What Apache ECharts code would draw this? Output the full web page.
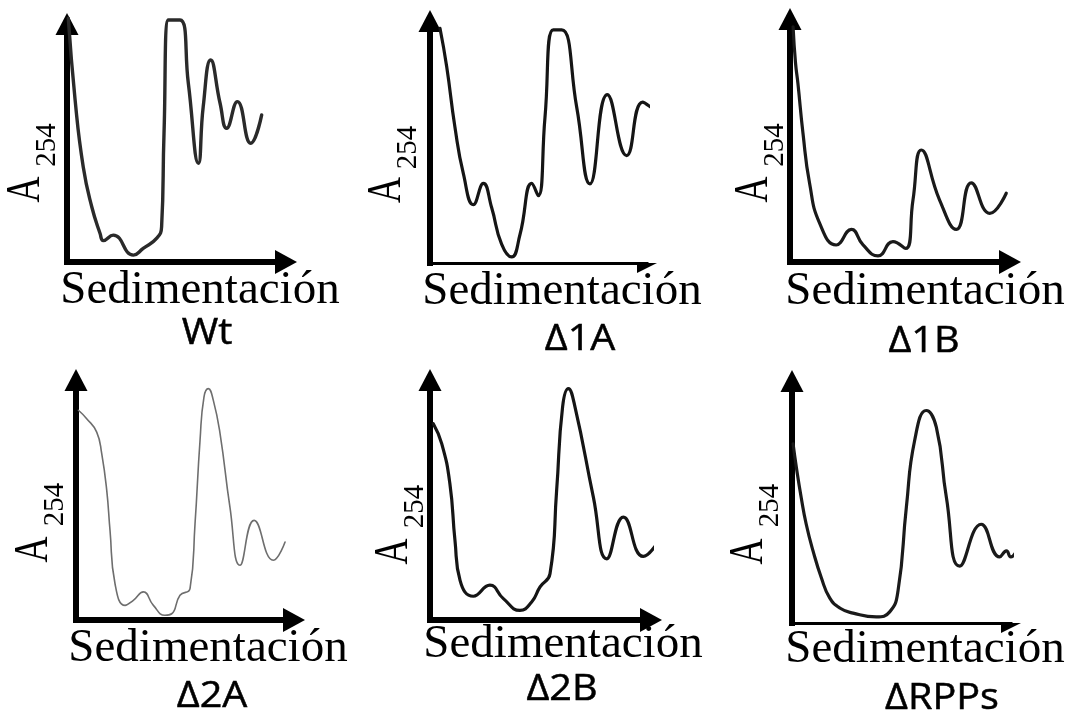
<!DOCTYPE html>
<html>
<head>
<meta charset="utf-8">
<title>Perfiles de sedimentación</title>
<script src="https://cdn.jsdelivr.net/npm/echarts@6/dist/echarts.min.js"></script>
<style>
  html, body { margin: 0; padding: 0; background: #fff; }
  #chart { width: 1073px; height: 717px; }
</style>
</head>
<body>
<div id="chart"></div>
<script>
// Strain names shown under each profile
const strainNames = ['Wt', 'Δ1A', 'Δ1B', 'Δ2A', 'Δ2B', 'ΔRPPs'];
const xAxisTitle = 'Sedimentación';
const yAxisTitle = 'A';
const yAxisSubscript = '254';

// A254 profiles: [sedimentation position (0-100), relative absorbance]
const profileWt = [
  [0.6, 102.4], [3.7, 68.1], [7.4, 40.0], [11.3, 23.2], [15.1, 12.0], [16.6, 9.0],
  [21.1, 11.3], [30.3, 2.9], [34.8, 5.7], [41.0, 10.0], [43.2, 14.8], [44.3, 54.1],
  [46.3, 101.7], [51.6, 101.7], [55.4, 75.1], [60.0, 41.5], [62.2, 65.3], [65.6, 84.9],
  [69.9, 66.7], [72.9, 56.2], [77.8, 67.4], [83.9, 49.9], [88.9, 61.8]
];
const profileD1A = [
  [4.6, 97.0], [7.7, 81.1], [11.5, 56.1], [15.4, 36.8], [20.0, 24.1], [24.6, 32.9],
  [28.4, 22.9], [33.0, 7.8], [37.6, 2.5], [41.5, 11.9], [46.9, 32.9], [49.9, 27.8],
  [53.0, 60.3], [56.8, 96.3], [60.7, 96.3], [67.6, 64.4], [73.7, 32.7], [81.7, 69.6],
  [90.6, 44.4], [98.0, 66.5], [102.9, 63.8], [104.5, 74.1]
];
const profileD1B = [
  [1.4, 96.8], [2.5, 82.0], [3.6, 73.5], [5.9, 53.0], [8.9, 32.4], [13.5, 15.9], [21.0, 7.0],
  [27.9, 13.4], [33.2, 7.0], [40.0, 2.5], [46.8, 8.4], [52.6, 5.6], [55.9, 25.5],
  [59.7, 46.1], [68.0, 25.5], [75.6, 13.4], [82.4, 32.6], [90.8, 20.0], [98.3, 28.3]
];
const profileD2A = [
  [1.1, 87.4], [4.9, 83.9], [9.5, 78.3], [11.8, 69.3], [14.1, 54.0], [15.6, 37.4],
  [17.9, 15.1], [22.5, 6.1], [26.3, 8.2], [30.9, 11.7], [35.5, 6.1], [40.8, 2.0],
  [43.9, 2.6], [47.7, 10.3], [52.3, 13.1], [54.6, 40.1], [56.9, 74.9], [58.7, 92.9],
  [60.7, 96.4], [63.0, 91.5], [66.1, 77.6], [70.6, 47.1], [75.2, 22.8], [81.7, 41.5],
  [90.5, 24.9], [95.9, 32.5]
];
const profileD2B = [
  [1.5, 81.8], [5.3, 73.5], [9.0, 56.8], [11.3, 33.2], [13.6, 16.5], [19.6, 9.9],
  [27.1, 14.5], [33.2, 8.9], [40.7, 4.0], [46.0, 7.5], [49.8, 13.8], [54.3, 19.3],
  [57.3, 54.0], [60.0, 88.8], [62.6, 96.4], [65.6, 88.8], [73.9, 51.3], [80.0, 25.5],
  [87.5, 42.9], [96.5, 26.5], [104.1, 33.9]
];
const profileDRPP = [
  [0.5, 74.0], [2.0, 64.3], [4.2, 51.9], [6.5, 40.8], [9.6, 29.8], [13.4, 18.7],
  [17.2, 10.4], [21.8, 6.2], [27.9, 4.1], [38.5, 2.5],
  [44.6, 4.6], [48.4, 13.2], [52.2, 47.7], [56.0, 75.4], [61.3, 87.8], [65.9, 80.9],
  [70.5, 51.9], [76.6, 23.5], [86.4, 40.8], [94.8, 27.3], [97.9, 29.8], [99.9, 27.3],
  [102.4, 29.5]
];
const profiles = [profileWt, profileD1A, profileD1B, profileD2A, profileD2B, profileDRPP];

// Right-hand edge of the gradient trace, where one is visible: [x, yFrom, yTo]
const traceEdges = [null, [104.5, 0, 97.1], null, null, [104.1, 3.3, 105.4], [102.3, 0.8, 101.7]];

// Panel geometry and styling (pixels)
const panels = [
  { grid: [67, 24, 219, 238],  axisW: [6, 6], halfArrow: false, line: ['#2a2a2a', 3.4],
    xTitle: [200, 291], name: [207, 334], a: [26, 189.5], sub: [47, 145], edge: null },
  { grid: [430, 21, 217, 242], axisW: [6, 3], halfArrow: true,  line: ['#151515', 3.2],
    xTitle: [562, 292], name: [580, 340], a: [387.5, 190], sub: [408.5, 147.5], edge: ['#222', 3] },
  { grid: [790, 19, 220, 243], axisW: [6, 6], halfArrow: false, line: ['#1a1a1a', 3.2],
    xTitle: [925, 292], name: [924, 342], a: [754, 189.5], sub: [775, 145], edge: null },
  { grid: [76, 380, 218, 240], axisW: [6, 6], halfArrow: false, line: ['#6e6e6e', 1.6],
    xTitle: [208, 649], name: [212, 697], a: [34, 549.5], sub: [55, 504.5], edge: null },
  { grid: [430, 380, 221, 240], axisW: [6, 6], halfArrow: false, line: ['#151515', 3.2],
    xTitle: [563, 645], name: [562, 690], a: [394, 551.5], sub: [415, 506.5], edge: ['#b0b0b0', 2] },
  { grid: [792, 381, 219, 242], axisW: [6, 3], halfArrow: true,  line: ['#1a1a1a', 3.2],
    xTitle: [925, 650], name: [942, 699], a: [749, 551.5], sub: [770, 505.5], edge: ['#a0a0a0', 2] }
];

// Lower half of an arrow head (the upper half sits behind the trace)
const halfArrowPath = 'path://M-10,20 M0,0 L10,20 L0,20 Z';

const grids = [], xAxes = [], yAxes = [], series = [], graphics = [];

panels.forEach(function (p, i) {
  grids.push({ left: p.grid[0], top: p.grid[1], width: p.grid[2], height: p.grid[3], containLabel: false });

  xAxes.push({
    gridIndex: i, type: 'value', min: 0, max: 100,
    axisLine: {
      show: true, onZero: false,
      symbol: ['none', p.halfArrow ? halfArrowPath : 'triangle'],
      symbolSize: p.halfArrow ? [20, 22] : [24, 22],
      lineStyle: { color: '#000', width: p.axisW[1], cap: 'square' }
    },
    axisTick: { show: false }, axisLabel: { show: false }, splitLine: { show: false }
  });

  yAxes.push({
    gridIndex: i, type: 'value', min: 0, max: 100,
    axisLine: {
      show: true, onZero: false,
      symbol: ['none', 'triangle'],
      symbolSize: [23, 22],
      lineStyle: { color: '#000', width: p.axisW[0], cap: 'square' }
    },
    axisTick: { show: false }, axisLabel: { show: false }, splitLine: { show: false }
  });

  const s = {
    type: 'line', xAxisIndex: i, yAxisIndex: i,
    data: profiles[i], smooth: 0.5, symbol: 'none', showSymbol: false, clip: false,
    lineStyle: { color: p.line[0], width: p.line[1], cap: 'round', join: 'round' },
    z: 1
  };
  const e = traceEdges[i];
  if (e && p.edge) {
    s.markLine = {
      silent: true, symbol: ['none', 'none'], animation: false,
      label: { show: false },
      lineStyle: { color: p.edge[0], width: p.edge[1], type: 'solid' },
      data: [[{ coord: [e[0], e[1]] }, { coord: [e[0], e[2]] }]]
    };
  }
  series.push(s);

  // Axis titles and strain name
  graphics.push({
    type: 'text', x: p.xTitle[0], y: p.xTitle[1], silent: true,
    style: { text: xAxisTitle, fill: '#000', fontSize: 47, fontFamily: '"Liberation Serif", "Times New Roman", serif',
      align: 'center', verticalAlign: 'middle', textAlign: 'center', textVerticalAlign: 'middle' }
  });
  graphics.push({
    type: 'text', x: p.name[0], y: p.name[1], scaleX: 1.1, silent: true,
    style: { text: strainNames[i], fill: '#000', fontSize: 36, fontFamily: '"Open Sans", "Noto Sans", sans-serif',
      align: 'center', verticalAlign: 'middle', textAlign: 'center', textVerticalAlign: 'middle',
      stroke: '#000', lineWidth: 0.5 }
  });
  graphics.push({
    type: 'text', x: p.a[0], y: p.a[1], rotation: Math.PI / 2, scaleX: 0.75, silent: true,
    style: { text: yAxisTitle, fill: '#000', fontSize: 48, fontFamily: '"Liberation Serif", "Times New Roman", serif',
      align: 'center', verticalAlign: 'middle', textAlign: 'center', textVerticalAlign: 'middle' }
  });
  graphics.push({
    type: 'text', x: p.sub[0], y: p.sub[1], rotation: Math.PI / 2, silent: true,
    style: { text: yAxisSubscript, fill: '#000', fontSize: 29, fontFamily: '"Liberation Serif", "Times New Roman", serif',
      align: 'center', verticalAlign: 'middle', textAlign: 'center', textVerticalAlign: 'middle' }
  });
});

const chart = echarts.init(document.getElementById('chart'), null, { renderer: 'canvas' });
chart.setOption({
  animation: false,
  backgroundColor: '#fff',
  grid: grids,
  xAxis: xAxes,
  yAxis: yAxes,
  series: series,
  graphic: graphics
});
</script>
</body>
</html>
